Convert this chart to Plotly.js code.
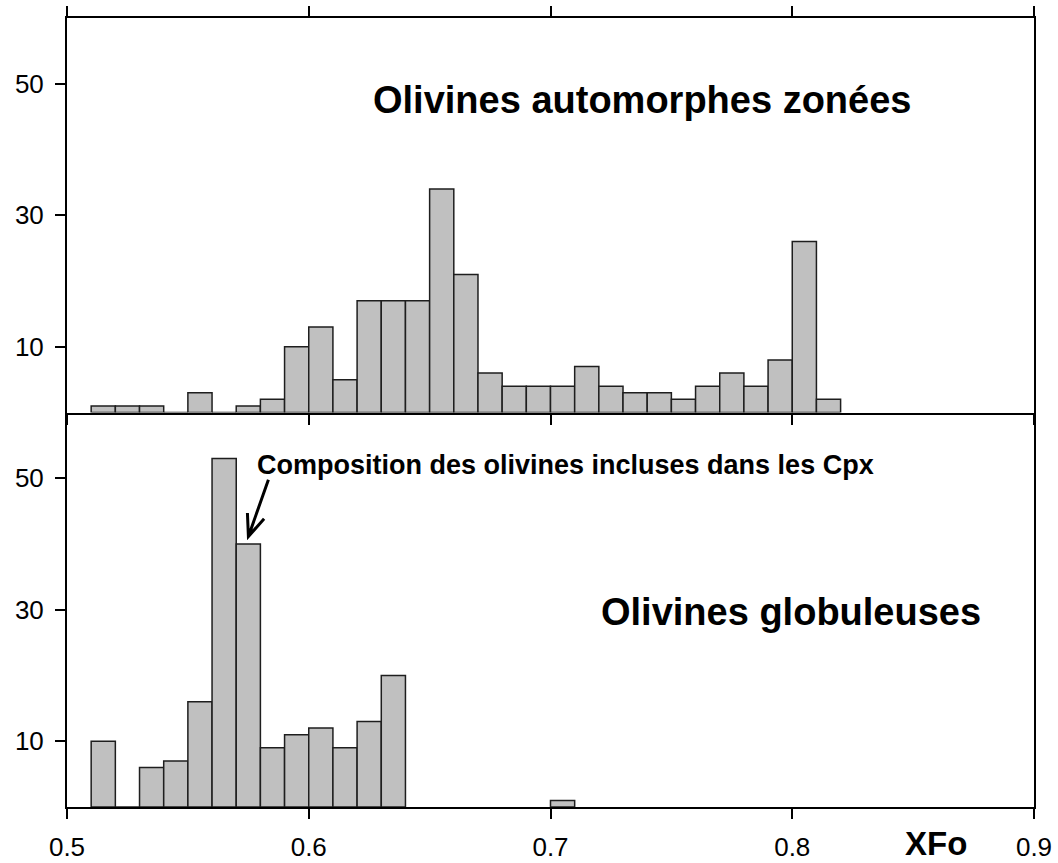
<!DOCTYPE html>
<html>
<head>
<meta charset="utf-8">
<script src="https://cdn.plot.ly/plotly-3.0.1.min.js"></script>
<style>
  html, body { margin: 0; padding: 0; background: #ffffff; }
  #chart { width: 1058px; height: 863px; }
</style>
</head>
<body>
<div id="chart"></div>
<script>
// Histogram bins of XFo (left edge of each 0.01-wide class)
const binsZonees = [0.51, 0.52, 0.53, 0.54, 0.55, 0.56, 0.57, 0.58, 0.59, 0.60,
                    0.61, 0.62, 0.63, 0.64, 0.65, 0.66, 0.67, 0.68, 0.69, 0.70,
                    0.71, 0.72, 0.73, 0.74, 0.75, 0.76, 0.77, 0.78, 0.79, 0.80, 0.81];
const countsZonees = [1, 1, 1, 0, 3, 0, 1, 2, 10, 13,
                      5, 17, 17, 17, 34, 21, 6, 4, 4, 4,
                      7, 4, 3, 3, 2, 4, 6, 4, 8, 26, 2];

const binsGlobuleuses = [0.51, 0.52, 0.53, 0.54, 0.55, 0.56, 0.57, 0.58, 0.59, 0.60,
                         0.61, 0.62, 0.63, 0.70];
const countsGlobuleuses = [10, 0, 6, 7, 16, 53, 40, 9, 11, 12,
                           9, 13, 20, 1];

const xTicks = [0.5, 0.6, 0.7, 0.8, 0.9];
const xTickLabels = ['0.5', '0.6', '0.7', '0.8', '0.9'];
const yTicks = [10, 30, 50];
const yTickLabels = ['10', '30', '50'];

const FONT = 'Liberation Sans, Arial, Helvetica, sans-serif';
const barStyle = {
  color: '#c0c0c0',
  line: { color: '#1e1e1e', width: 1.5 }
};

const traces = [
  {
    type: 'bar', name: 'Olivines globuleuses',
    x: binsGlobuleuses, y: countsGlobuleuses,
    width: 0.01, offset: 0,
    marker: barStyle,
    xaxis: 'x', yaxis: 'y',
    hoverinfo: 'x+y'
  },
  {
    type: 'bar', name: 'Olivines automorphes zonées',
    x: binsZonees, y: countsZonees,
    width: 0.01, offset: 0,
    marker: barStyle,
    xaxis: 'x2', yaxis: 'y2',
    hoverinfo: 'x+y'
  }
];

const axisCommon = {
  showline: true, linecolor: '#000', linewidth: 2,
  ticks: 'outside', ticklen: 10, tickwidth: 2, tickcolor: '#000',
  showgrid: false, zeroline: false,
  tickfont: { family: FONT, size: 26, color: '#000' },
  fixedrange: true
};

const layout = {
  width: 1058, height: 863,
  margin: { l: 67, r: 24, t: 18, b: 56, pad: 0 },
  paper_bgcolor: '#ffffff', plot_bgcolor: '#ffffff',
  showlegend: false,
  bargap: 0,
  font: { family: FONT, color: '#000' },
  // lower panel: its top edge is the upper panel's baseline
  xaxis: Object.assign({}, axisCommon, {
    domain: [0, 1], range: [0.5, 0.9], anchor: 'y',
    tickmode: 'array', tickvals: xTicks, ticktext: xTickLabels,
    mirror: false, ticklabelstandoff: 6
  }),
  yaxis: Object.assign({}, axisCommon, {
    domain: [0, 0.5], range: [0, 60], anchor: 'x',
    tickmode: 'array', tickvals: yTicks, ticktext: yTickLabels,
    mirror: true, ticklabelstandoff: 6
  }),
  xaxis2: Object.assign({}, axisCommon, {
    domain: [0, 1], range: [0.5, 0.9], anchor: 'y2', matches: 'x',
    tickmode: 'array', tickvals: xTicks, ticktext: xTickLabels,
    showticklabels: false, mirror: 'ticks'
  }),
  yaxis2: Object.assign({}, axisCommon, {
    domain: [0.5, 1], range: [0, 60], anchor: 'x2',
    tickmode: 'array', tickvals: yTicks, ticktext: yTickLabels,
    mirror: true, ticklabelstandoff: 6
  }),
  annotations: [
    {
      text: '<b>Olivines automorphes zonées</b>',
      xref: 'x2', yref: 'y2', x: 0.738, y: 47.6,
      xanchor: 'center', yanchor: 'middle', showarrow: false,
      font: { family: FONT, size: 38, color: '#000' }
    },
    {
      text: '<b>Olivines globuleuses</b>',
      xref: 'x', yref: 'y', x: 0.7994, y: 29.6,
      xanchor: 'center', yanchor: 'middle', showarrow: false,
      font: { family: FONT, size: 38, color: '#000' }
    },
    {
      text: '<b>Composition des olivines incluses dans les Cpx</b>',
      xref: 'x', yref: 'y', x: 0.5778, y: 52.0,
      xanchor: 'left', yanchor: 'middle', showarrow: false,
      font: { family: FONT, size: 27, color: '#000' }
    },
    {
      text: '<b>XFo</b>',
      xref: 'x', yref: 'paper', x: 0.8596, y: -0.046,
      xanchor: 'center', yanchor: 'middle', showarrow: false,
      font: { family: FONT, size: 33, color: '#000' }
    }
  ],
  shapes: [
    {
      // arrow pointing at the 0.57 class
      type: 'path', xref: 'x', yref: 'y',
      path: 'M 0.58331 49.77 L 0.57504 41.15 M 0.57463 44.71 L 0.57504 41.15 L 0.58153 43.84',
      line: { color: '#000', width: 3 }
    }
  ]
};

Plotly.newPlot('chart', traces, layout, { displayModeBar: false, staticPlot: true });
</script>
</body>
</html>
